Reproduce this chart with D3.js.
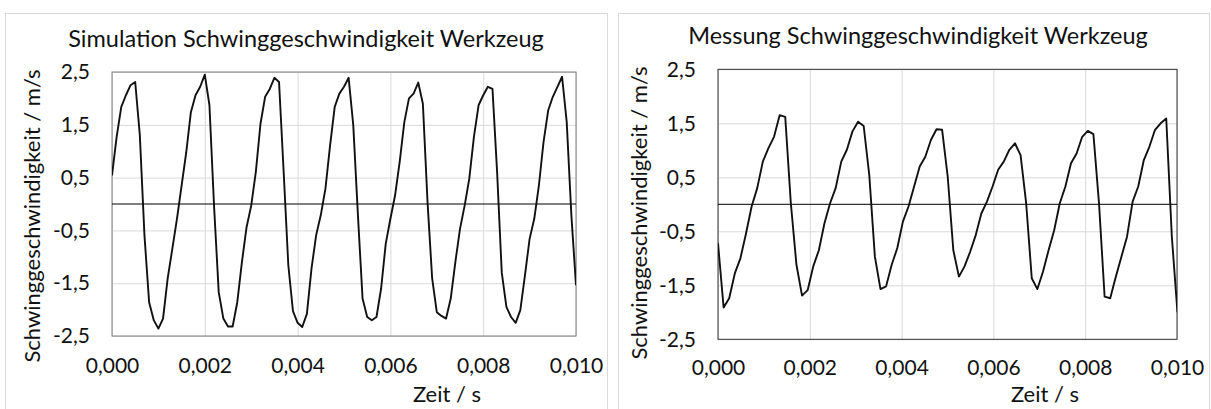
<!DOCTYPE html>
<html>
<head>
<meta charset="utf-8">
<script src="https://cdn.jsdelivr.net/npm/d3@7"></script>
<style>
  body { margin: 0; background: #fff; }
  text { font-family: "Lato", "Open Sans", sans-serif; fill: #111; }
</style>
</head>
<body>
<svg id="chart" width="1211" height="409"></svg>
<script>
"use strict";

// sample spacing of both series (simulation 10 kHz, measurement 8192 Hz)
const simStep = 0.0001;
const measStep = 1 / 8192;

// simulated tool velocity, m/s
const simValues = [
  0.54, 1.27, 1.84, 2.06, 2.25, 2.31, 1.30, -0.60, -1.86, -2.20,
  -2.36, -2.17, -1.41, -0.85, -0.28, 0.35, 0.98, 1.74, 2.06, 2.22,
  2.45, 1.87, -0.05, -1.67, -2.17, -2.32, -2.32, -1.86, -1.10, -0.44,
  -0.03, 0.61, 1.52, 2.03, 2.18, 2.39, 2.31, 0.60, -1.16, -2.03,
  -2.25, -2.33, -2.08, -1.22, -0.59, -0.21, 0.29, 1.11, 1.84, 2.09,
  2.22, 2.39, 1.49, -0.21, -1.79, -2.14, -2.20, -2.14, -1.60, -0.75,
  -0.28, 0.16, 0.80, 1.55, 2.00, 2.09, 2.30, 1.90, 0.04, -1.41,
  -2.05, -2.12, -2.17, -1.79, -1.10, -0.47, -0.03, 0.48, 1.27, 1.87,
  2.06, 2.22, 2.18, 0.60, -1.30, -1.95, -2.14, -2.25, -2.01, -1.35,
  -0.66, -0.28, 0.35, 1.17, 1.77, 2.03, 2.22, 2.41, 1.55, -0.21,
  -1.54
];

// measured tool velocity, m/s
const measValues = [
  -0.72, -1.91, -1.74, -1.28, -1.00, -0.54, -0.04, 0.30, 0.79, 1.04,
  1.25, 1.65, 1.62, 0.02, -1.12, -1.69, -1.59, -1.15, -0.85, -0.35,
  0.02, 0.30, 0.79, 1.01, 1.35, 1.53, 1.45, 0.54, -0.97, -1.57,
  -1.52, -1.12, -0.81, -0.32, -0.04, 0.33, 0.70, 0.88, 1.19, 1.39,
  1.38, 0.51, -0.85, -1.34, -1.15, -0.88, -0.57, -0.17, 0.05, 0.33,
  0.64, 0.79, 1.01, 1.13, 0.91, 0.02, -1.37, -1.57, -1.25, -0.85,
  -0.48, 0.02, 0.33, 0.76, 0.94, 1.25, 1.36, 1.30, 0.02, -1.71,
  -1.74, -1.34, -0.97, -0.60, 0.05, 0.33, 0.82, 1.07, 1.38, 1.50,
  1.59, -0.60, -2.00
];

const xTicks = [0, 0.002, 0.004, 0.006, 0.008, 0.010];
const yTicks = [2.5, 1.5, 0.5, -0.5, -1.5, -2.5];

const titles = ["Simulation Schwinggeschwindigkeit Werkzeug", "Messung Schwinggeschwindigkeit Werkzeug"];
const yTitle = "Schwinggeschwindigkeit  / m/s";
const xTitle = "Zeit / s";

// german number format, plain hyphen as minus like in the original
const de = d3.formatLocale({decimal: ",", thousands: ".", grouping: [3], currency: ["", " €"], minus: "-"});
const fmtX = de.format(".3f");
const fmtY = de.format(".1f");

const svg = d3.select("#chart");

/**
 * Draws one chart panel
 *
 * @param {Object} p panel layout
 * @param {Array} values series values
 * @param {Number} step sample spacing in s
 */
function drawPanel(p, values, step)
{
    let g = svg.append("g");
    let w = p.width, h = p.height;

    // outer chart frame
    g.append("rect")
     .attr("x", p.frame[0] + 0.5).attr("y", p.frame[1] + 0.5)
     .attr("width", p.frame[2]).attr("height", 420)
     .attr("fill", "none").attr("stroke", "#d9d9d9");

    let x = d3.scaleLinear().domain([0, 0.010]).range([p.left, p.left + w]);
    let y = d3.scaleLinear().domain([-2.5, 2.5]).range([p.top + h, p.top]);

    // grid
    g.append("g")
     .attr("transform", "translate(0," + (p.top + h) + ")")
     .call(d3.axisBottom(x).tickValues(xTicks).tickSize(-h).tickFormat(""))
     .call(s => s.select(".domain").remove())
     .selectAll("line").attr("stroke", "#d9d9d9");

    g.append("g")
     .attr("transform", "translate(" + p.left + ",0)")
     .call(d3.axisLeft(y).tickValues(yTicks).tickSize(-w).tickFormat(""))
     .call(s => s.select(".domain").remove())
     .selectAll("line").attr("stroke", "#d9d9d9");

    // plot border
    g.append("rect")
     .attr("x", p.left).attr("y", p.top)
     .attr("width", w).attr("height", h)
     .attr("fill", "none").attr("stroke", p.border);

    // zero line
    g.append("line")
     .attr("x1", p.left).attr("x2", p.left + w)
     .attr("y1", y(0)).attr("y2", y(0))
     .attr("stroke", "#000");

    // tick labels
    let ya = g.append("g")
     .attr("transform", "translate(" + p.left + ",0)")
     .call(d3.axisLeft(y).tickValues(yTicks).tickSize(0).tickPadding(22).tickFormat(fmtY));
    ya.select(".domain").remove();
    ya.selectAll("text").attr("font-size", 21).attr("font-family", null).attr("fill", "#111");

    let xa = g.append("g")
     .attr("transform", "translate(0," + (p.top + h) + ")")
     .call(d3.axisBottom(x).tickValues(xTicks).tickSize(0).tickPadding(p.xPad).tickFormat(fmtX));
    xa.select(".domain").remove();
    xa.selectAll("text").attr("font-size", 21).attr("font-family", null).attr("fill", "#111");

    // data line, clipped to the plot area
    let clipId = "clip" + p.id;
    g.append("clipPath").attr("id", clipId)
     .append("rect")
     .attr("x", p.left).attr("y", p.top - 2)
     .attr("width", w).attr("height", h + 4);

    let line = d3.line()
                 .x((d, i) => x(i * step))
                 .y(d => y(d));

    g.append("path")
     .datum(values)
     .attr("clip-path", "url(#" + clipId + ")")
     .attr("fill", "none")
     .attr("stroke", "#111")
     .attr("stroke-width", 1.9)
     .attr("stroke-linejoin", "round")
     .attr("d", line);

    // titles
    g.append("text")
     .attr("x", p.titleX).attr("y", p.titleY)
     .attr("text-anchor", "middle")
     .attr("font-size", 23.5)
     .text(titles[p.id]);

    g.append("text")
     .attr("transform", "translate(" + p.yTitleX + "," + p.yTitleY + ") rotate(-90)")
     .attr("text-anchor", "middle")
     .attr("font-size", 22)
     .text(yTitle);

    g.append("text")
     .attr("x", p.xTitleX).attr("y", 402)
     .attr("text-anchor", "middle")
     .attr("font-size", 22)
     .text(xTitle);
}

drawPanel({id: 0, frame: [5, 13, 602], left: 112, top: 72, width: 464, height: 264,
           border: "#7f7f7f", xPad: 22, titleX: 306, titleY: 47,
           yTitleX: 40, yTitleY: 216, xTitleX: 447}, simValues, simStep);

drawPanel({id: 1, frame: [618, 13, 591], left: 718, top: 69.3, width: 459, height: 270,
           border: "#333", xPad: 21, titleX: 918, titleY: 44,
           yTitleX: 647, yTitleY: 213, xTitleX: 1045}, measValues, measStep);
</script>
</body>
</html>
